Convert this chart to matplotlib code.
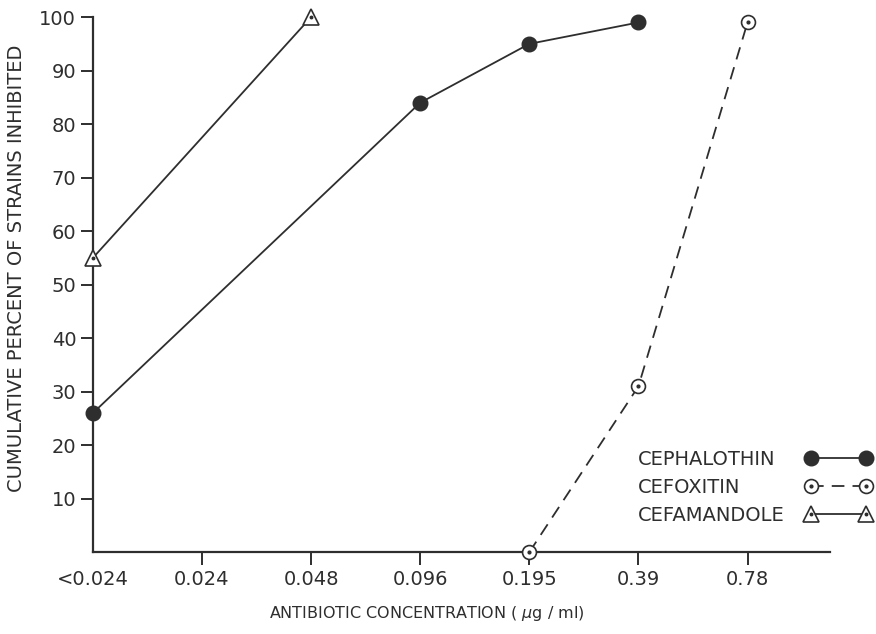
import matplotlib
matplotlib.use("Agg")
import matplotlib.pyplot as plt
from matplotlib.lines import Line2D
from matplotlib.legend_handler import HandlerTuple

# Data
categories = ["<0.024", "0.024", "0.048", "0.096", "0.195", "0.39", "0.78"]

cephalothin_conc = ["<0.024", "0.096", "0.195", "0.39"]
cephalothin_pct = [26, 84, 95, 99]

cefoxitin_conc = ["0.195", "0.39", "0.78"]
cefoxitin_pct = [0, 31, 99]

cefamandole_conc = ["<0.024", "0.048"]
cefamandole_pct = [55, 100]

y_ticks = [10, 20, 30, 40, 50, 60, 70, 80, 90, 100]
names = ["CEPHALOTHIN", "CEFOXITIN", "CEFAMANDOLE"]

ink = "#2e2e2e"
plt.rcParams["font.family"] = "DejaVu Sans"

fig = plt.figure(figsize=(8.76, 6.34), dpi=100)
ax = fig.add_axes([0.106, 0.129, 0.842, 0.844])


def pos(labels):
    return [categories.index(c) for c in labels]


l1, = ax.plot(pos(cephalothin_conc), cephalothin_pct, color=ink, lw=1.3,
              marker="o", ms=10.5, mfc=ink, mec=ink, clip_on=False, zorder=3)

l2, = ax.plot(pos(cefoxitin_conc), cefoxitin_pct, color=ink, lw=1.3,
              ls=(0, (7, 4.5)), marker="o", ms=10, mfc="white", mec=ink,
              mew=1.2, clip_on=False, zorder=3)
d2, = ax.plot(pos(cefoxitin_conc), cefoxitin_pct, ls="none", marker="o",
              ms=2, color=ink, clip_on=False, zorder=4)

l3, = ax.plot(pos(cefamandole_conc), cefamandole_pct, color=ink, lw=1.3,
              marker="^", ms=11, mfc="white", mec=ink, mew=1.2,
              clip_on=False, zorder=3)
d3, = ax.plot(pos(cefamandole_conc), cefamandole_pct, ls="none", marker="o",
              ms=1.8, color=ink, clip_on=False, zorder=4)

ax.set_xlim(0, 6.76)
ax.set_ylim(0, 100)
ax.set_xticks(range(len(categories)))
ax.set_xticklabels(categories)
ax.set_yticks(y_ticks)
ax.xaxis.get_major_ticks()[0].tick1line.set_visible(False)

for side in ["top", "right"]:
    ax.spines[side].set_visible(False)
for side in ["left", "bottom"]:
    ax.spines[side].set_color(ink)
    ax.spines[side].set_linewidth(1.6)

ax.tick_params(axis="both", colors=ink, labelsize=14, width=1.4, length=9)
ax.tick_params(axis="x", pad=4)
ax.tick_params(axis="y", pad=3)

ax.set_xlabel("ANTIBIOTIC CONCENTRATION ( $\\mu$g / ml)", fontsize=11.5,
              color=ink)
ax.set_ylabel("CUMULATIVE PERCENT OF STRAINS INHIBITED", fontsize=14,
              color=ink)
ax.xaxis.set_label_coords(0.453, -0.097)
ax.yaxis.set_label_coords(-0.09, 0.531)

# legend: names on the left, line samples in a right-hand column
common = dict(bbox_transform=fig.transFigure, frameon=False, fontsize=14,
              labelspacing=0.45, borderpad=0, borderaxespad=0)
blank = [Line2D([], [], ls="none") for _ in names]
leg_text = ax.legend(blank, names, loc="upper left",
                     bbox_to_anchor=(0.728, 0.290),
                     handlelength=0, handletextpad=0, **common)
for t in leg_text.get_texts():
    t.set_color(ink)
ax.add_artist(leg_text)

leg_lines = ax.legend([(l1,), (l2, d2), (l3, d3)], ["", "", ""],
                      handler_map={tuple: HandlerTuple(ndivide=1)},
                      loc="upper right", bbox_to_anchor=(0.995, 0.290),
                      numpoints=2, handlelength=3.4, handletextpad=0,
                      **common)

fig.savefig("out.png", dpi=100)
